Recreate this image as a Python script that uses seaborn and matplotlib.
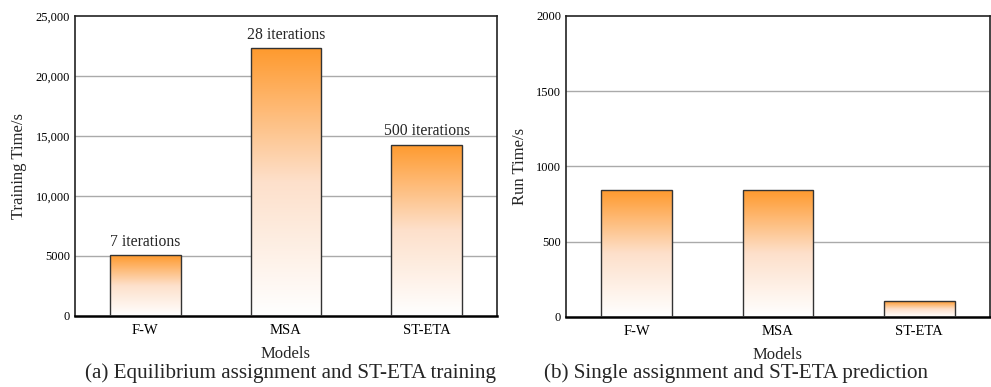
import numpy as np
import pandas as pd
import matplotlib
matplotlib.use("Agg")
import matplotlib.pyplot as plt
from matplotlib.colors import LinearSegmentedColormap
from matplotlib.ticker import FuncFormatter, MultipleLocator
import seaborn as sns

# Data
models = ["F-W", "MSA", "ST-ETA"]
training_time = [5050, 22300, 14250]
training_labels = ["7 iterations", "28 iterations", "500 iterations"]
run_time = [842, 842, 105]

sns.set_theme(style="white")
plt.rcParams["font.family"] = ["Liberation Serif", "DejaVu Serif"]
plt.rcParams["mathtext.fontset"] = "stix"

fig = plt.figure(figsize=(9.91, 3.87), dpi=100)
ax1 = fig.add_axes([0.0757, 0.1835, 0.4258, 0.7752])
ax2 = fig.add_axes([0.5711, 0.1809, 0.4279, 0.7778])

cmap = LinearSegmentedColormap.from_list("fade", ["#ffffff", "#fde0cb", "#ff9a2e"])
grad = np.linspace(0, 1, 256).reshape(-1, 1)


def draw_panel(ax, values, ymax, ylabel, major, minor, fmt):
    df = pd.DataFrame({"Models": models, "value": values})
    sns.barplot(data=df, x="Models", y="value", ax=ax, width=0.5,
                color="#ff9a2e", edgecolor="#333333", linewidth=1.0,
                zorder=3)
    for p in ax.patches:
        p.set_facecolor("none")
        x0, y0 = p.get_x(), p.get_y()
        w, h = p.get_width(), p.get_height()
        im = ax.imshow(grad, cmap=cmap, aspect="auto", origin="lower",
                       extent=[x0, x0 + w, y0, y0 + h], zorder=2.5)
        im.set_clip_path(p)
    ax.set_xlim(-0.5, 2.5)
    ax.set_ylim(0, ymax)

    ax.yaxis.set_major_locator(MultipleLocator(major))
    ax.yaxis.set_minor_locator(MultipleLocator(minor))
    ax.yaxis.set_major_formatter(FuncFormatter(fmt))
    ax.set_xticks(range(len(models)))
    ax.set_xticks([0.5, 1.5], minor=True)
    ax.set_xticklabels(models)
    ax.tick_params(axis="both", which="both", direction="in", colors="#222222",
                   labelcolor="black")
    ax.tick_params(axis="y", labelsize=9)
    ax.tick_params(axis="x", labelsize=10.5)
    ax.tick_params(axis="both", which="major", length=4, width=0.8)
    ax.tick_params(axis="both", which="minor", length=2.5, width=0.8)
    ax.tick_params(axis="x", which="both", top=False, pad=6)
    ax.tick_params(axis="y", which="both", right=False)

    for t in ax.yaxis.get_major_locator().tick_values(0, ymax):
        if 0 < t < ymax:
            ax.axhline(t, color="#aaaaaa", linewidth=1.0, zorder=1)

    for side in ["top", "right", "left"]:
        ax.spines[side].set_visible(True)
        ax.spines[side].set_color("#222222")
        ax.spines[side].set_linewidth(1.2)
    ax.spines["bottom"].set_color("black")
    ax.spines["bottom"].set_linewidth(1.8)

    ax.set_xlabel("Models", fontsize=12, labelpad=6)
    ax.set_ylabel(ylabel, fontsize=12, labelpad=6)


draw_panel(ax1, training_time, 25000, "Training Time/s", 5000, 2500,
           lambda v, _: f"{int(v):,}" if v >= 10000 else f"{int(v)}")
draw_panel(ax2, run_time, 2000, "Run Time/s", 500, 250,
           lambda v, _: f"{int(v)}")

for i, (v, lab) in enumerate(zip(training_time, training_labels)):
    ax1.annotate(lab, (i, v), xytext=(0, 4), textcoords="offset points",
                 ha="center", va="bottom", fontsize=11.3)

fig.text(0.2935, 0.036, "(a) Equilibrium assignment and ST-ETA training",
         ha="center", va="center", fontsize=15.2)
fig.text(0.7425, 0.036, "(b) Single assignment and ST-ETA prediction",
         ha="center", va="center", fontsize=15.2)

fig.savefig("out.png", dpi=100)
